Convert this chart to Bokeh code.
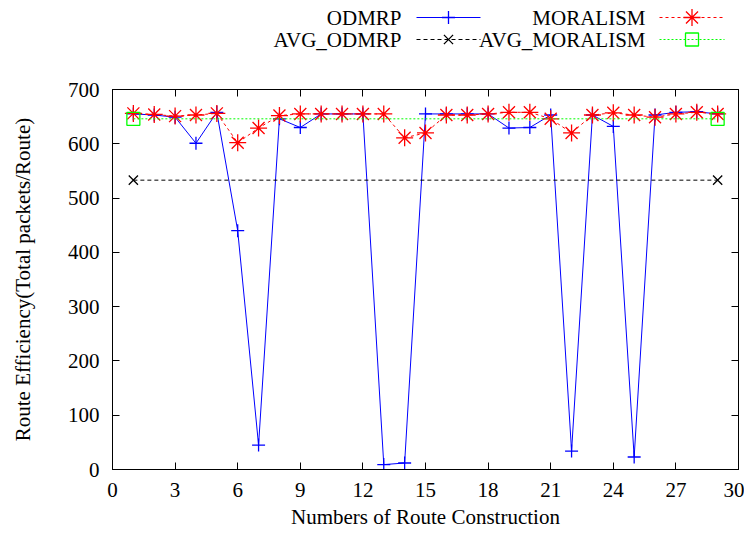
from bokeh.plotting import figure
from bokeh.layouts import column
from bokeh.models import Range1d, FixedTicker, LinearAxis, CustomLabelingPolicy
from bokeh.core.properties import value
from bokeh.embed import file_html
from bokeh.resources import INLINE

route = list(range(1, 30))
odmrp = [655, 653, 649, 601, 658, 440, 45, 646, 630, 655, 655, 655, 9, 12, 655,
         655, 655, 655, 629, 630, 653, 34, 653, 632, 23, 653, 658, 659, 655]
moralism = [656, 654, 651, 653, 656, 602, 629, 652, 655, 655, 655, 655, 655, 611, 620,
            653, 653, 655, 658, 658, 646, 620, 653, 657, 653, 649, 655, 658, 655]
avg_x = [1, 29]
avg_odmrp = [533, 533]
avg_moralism = [646, 646]
x_ticks = list(range(0, 31, 3))
y_ticks = list(range(0, 701, 100))
series_names = ["ODMRP", "MORALISM", "AVG_ODMRP", "AVG_MORALISM"]

FONT = "Liberation Serif"
FS = "21px"
W = 744
LEG_H = 79
MAIN_H = 455
BL, BR, BT, BB = 112, 6, 10, 65

# ---------- legend strip (gnuplot style: label, then sample) ----------
# its frame is aligned with the main frame; coordinates are figure pixels
leg = figure(width=W, height=LEG_H, output_backend="svg", toolbar_location=None,
             x_range=Range1d(BL, W - BR), y_range=Range1d(0, LEG_H),
             min_border_left=BL, min_border_right=BR, min_border_top=0,
             min_border_bottom=0, outline_line_color=None)
leg.axis.visible = False
leg.grid.visible = False

row_y = [LEG_H - 17, LEG_H - 17, LEG_H - 39, LEG_H - 39]
text_right = [401, 645, 401, 645]
samp0 = [416, 659, 416, 659]
samp1 = [480, 724, 480, 724]
leg.text(x=text_right, y=row_y, text=series_names, text_align="right",
         text_baseline="middle", text_font=value(FONT), text_font_size=FS,
         text_color="black")
styles = [
    dict(color="blue", dash="solid", marker="cross", size=13),
    dict(color="red", dash="3 3", marker="asterisk", size=17),
    dict(color="black", dash="4 3", marker="x", size=13),
    dict(color="#00ff00", dash="2 2", marker="square", size=13),
]
for i, st in enumerate(styles):
    leg.segment(x0=[samp0[i]], y0=[row_y[i]], x1=[samp1[i]], y1=[row_y[i]],
                line_color=st["color"], line_width=1, line_dash=st["dash"])
    leg.scatter(x=[(samp0[i] + samp1[i]) / 2], y=[row_y[i]], marker=st["marker"],
                size=st["size"], line_color=st["color"], fill_color=None,
                line_width=1.3)

# ---------- main plot ----------
p = figure(width=W, height=MAIN_H, output_backend="svg", toolbar_location=None,
           x_range=Range1d(0, 30), y_range=Range1d(0, 700),
           min_border_left=BL, min_border_right=BR, min_border_top=BT,
           min_border_bottom=BB)
p.grid.visible = False
p.outline_line_color = "black"
p.outline_line_width = 1

data_series = [(route, odmrp), (route, moralism), (avg_x, avg_odmrp), (avg_x, avg_moralism)]
for (xs, ys), st in zip(data_series, styles):
    p.line(xs, ys, line_color=st["color"], line_width=1, line_dash=st["dash"])
    p.scatter(xs, ys, marker=st["marker"], size=st["size"], line_color=st["color"],
              fill_color=None, line_width=1.3)

no_labels = CustomLabelingPolicy(code="return new Set()")

def style_axis(ax, ticks, show_labels=True):
    ax.ticker = FixedTicker(ticks=ticks)
    ax.minor_tick_line_color = None
    ax.major_tick_in = 7
    ax.major_tick_out = 0
    ax.major_tick_line_color = "black"
    ax.axis_line_color = "black"
    ax.major_label_text_font = FONT
    ax.major_label_text_color = "black"
    if show_labels:
        ax.major_label_text_font_size = FS
    else:
        ax.major_label_text_font_size = "1px"
        ax.major_label_standoff = 0
        ax.major_label_policy = no_labels

xa = p.xaxis[0]
ya = p.yaxis[0]
style_axis(xa, x_ticks)
style_axis(ya, y_ticks)
xa.major_label_standoff = 13
ya.major_label_standoff = 13
xa.axis_label = "Numbers of Route Construction"
ya.axis_label = "Route Efficiency(Total packets/Route)"
for ax in (xa, ya):
    ax.axis_label_text_font = FONT
    ax.axis_label_text_font_size = FS
    ax.axis_label_text_font_style = "normal"
    ax.axis_label_text_color = "black"
xa.axis_label_standoff = 5
ya.axis_label_standoff = 30

top_ax = LinearAxis()
style_axis(top_ax, x_ticks, show_labels=False)
p.add_layout(top_ax, "above")
right_ax = LinearAxis()
style_axis(right_ax, y_ticks, show_labels=False)
p.add_layout(right_ax, "right")

layout = column(leg, p, spacing=0)
open("out.html", "w").write(file_html(layout, INLINE))
